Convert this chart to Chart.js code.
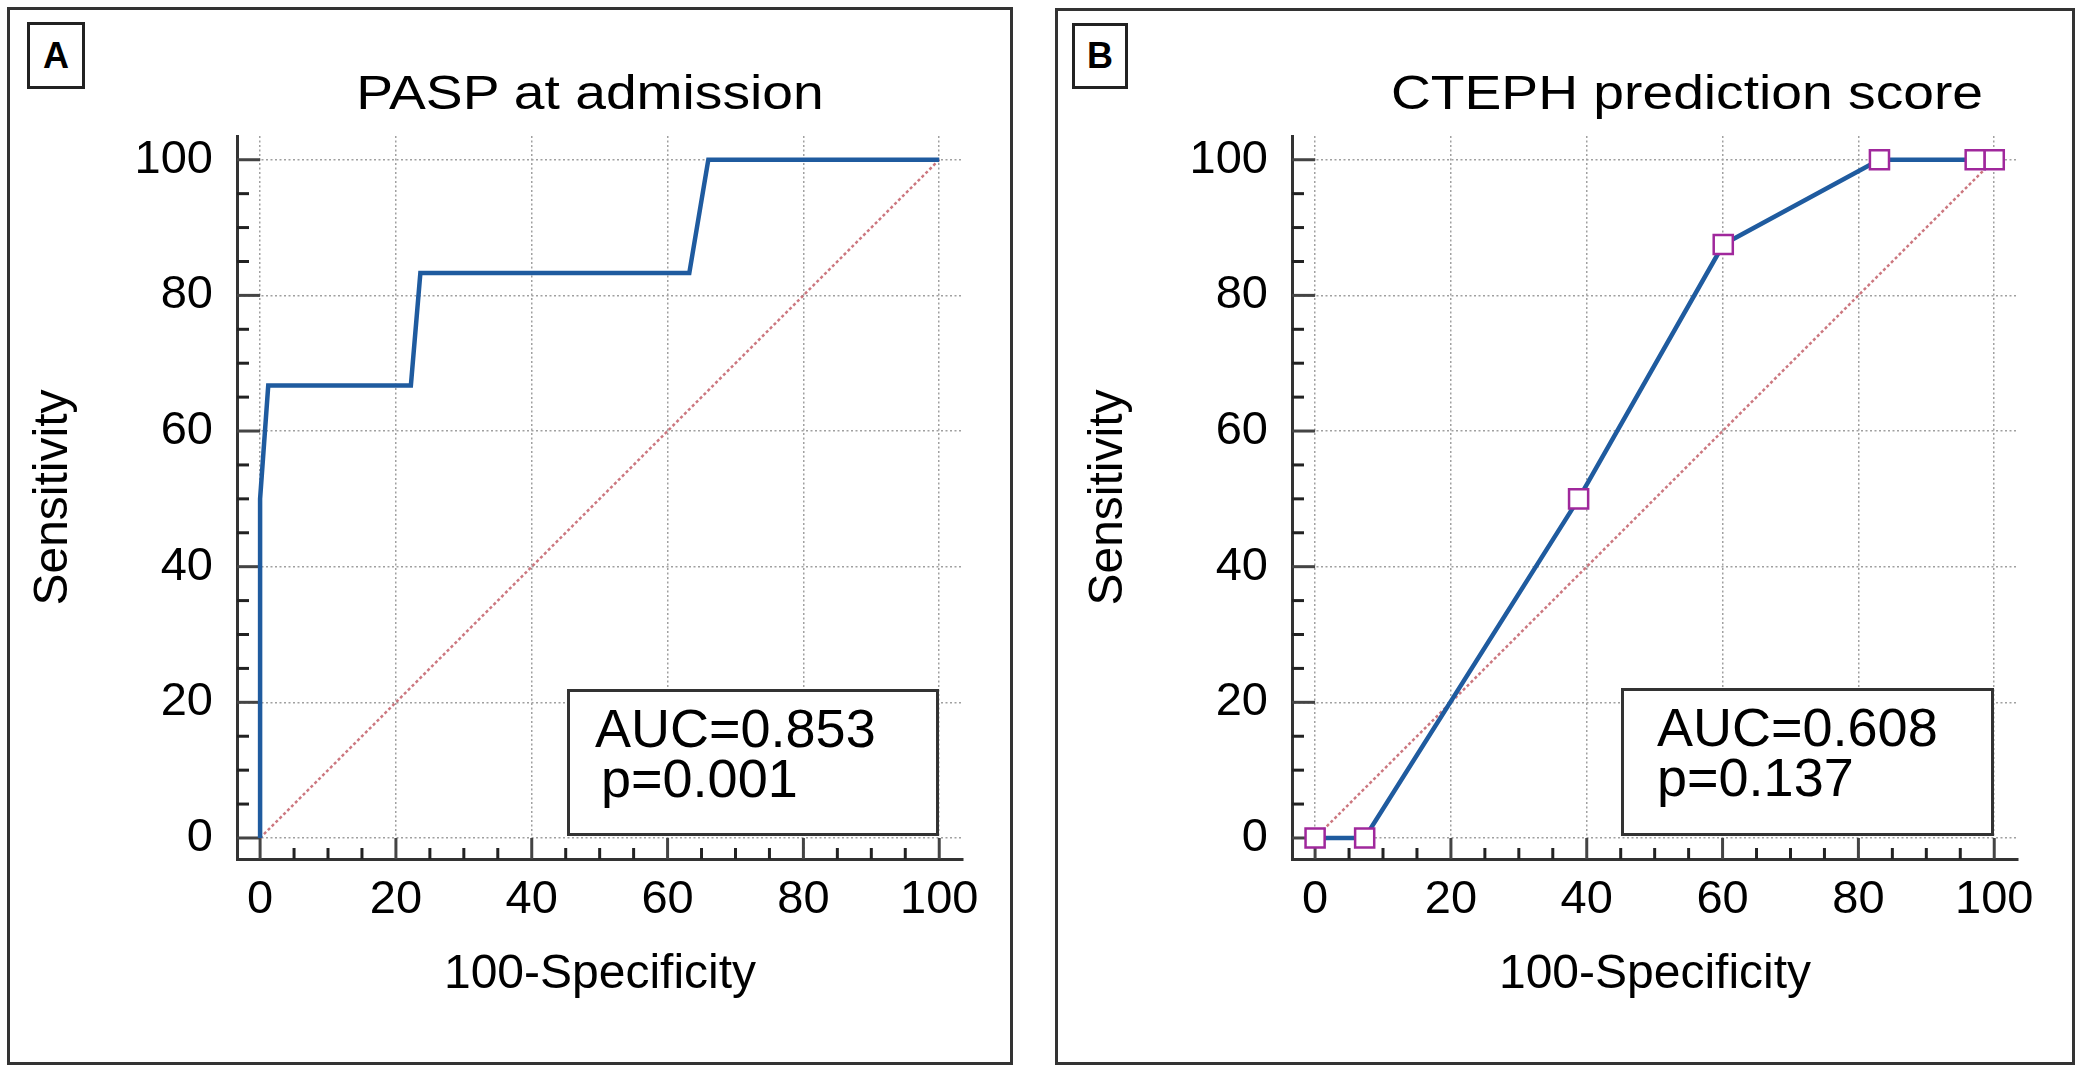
<!DOCTYPE html>
<html>
<head>
<meta charset="utf-8">
<title>ROC curves</title>
<script src="https://cdn.jsdelivr.net/npm/chart.js@4.4.1/dist/chart.umd.min.js"></script>
<style>
  html, body { margin: 0; padding: 0; background: #fff; }
  body { width: 2091px; height: 1076px; position: relative; overflow: hidden;
         font-family: "Liberation Sans", Arial, sans-serif; color: #000; }
  .panel { position: absolute; box-sizing: border-box; border: 3px solid #333; }
  .tag { position: absolute; box-sizing: border-box; border: 3px solid #222; display: flex;
         align-items: center; justify-content: center; font-weight: bold; font-size: 36px; background: #fff; }
  .title { position: absolute; font-size: 48px; line-height: 1; white-space: nowrap;
           transform: translateX(-50%) scaleX(1.15); }
  .auc { position: absolute; box-sizing: border-box; border: 3px solid #333; background: #fff;
         font-size: 54px; line-height: 50px; white-space: nowrap; }
  canvas { position: absolute; top: 0; }
</style>
</head>
<body>

<div class="panel" style="left:7px; top:7px; width:1006px; height:1058px;"></div>
<div class="panel" style="left:1055px; top:8px; width:1020px; height:1057px;"></div>

<canvas id="chartA" width="1036" height="1076" style="left:0px;"></canvas>
<canvas id="chartB" width="1036" height="1076" style="left:1055px;"></canvas>

<div class="tag" style="left:27px; top:22px; width:58px; height:67px;">A</div>
<div class="tag" style="left:1072px; top:23px; width:56px; height:66px;">B</div>

<div class="title" id="titleA" style="left:590px; top:69px;"></div>
<div class="title" id="titleB" style="left:1687px; top:69px;"></div>

<div class="auc" style="left:567px; top:689px; width:372px; height:147px; padding:11px 0 0 25px;">
  <div id="aucA"></div><div id="pA" style="padding-left:6px;"></div>
</div>
<div class="auc" style="left:1621px; top:688px; width:373px; height:148px; padding:11px 0 0 33px;">
  <div id="aucB"></div><div id="pB"></div>
</div>

<script>
// valeurs
const titleA = 'PASP at admission';
const titleB = 'CTEPH prediction score';
const xAxisTitle = '100-Specificity';
const yAxisTitle = 'Sensitivity';

const aucTextA = 'AUC=0.853';
const pTextA = 'p=0.001';
const aucTextB = 'AUC=0.608';
const pTextB = 'p=0.137';

// courbe ROC A (PASP)
const paspX = [0, 0, 1.2, 22.2, 23.6, 63.2, 66.0, 100];
const paspY = [0, 50, 66.7, 66.7, 83.3, 83.3, 100, 100];

// courbe ROC B (score CTEPH)
const ctephX = [0, 7.3, 38.8, 60.1, 83.1, 97.2, 100];
const ctephY = [0, 0, 50, 87.5, 100, 100, 100];

// diagonale de référence
const diagX = [0, 100];
const diagY = [0, 100];

const majorTicks = [0, 20, 40, 60, 80, 100];
const minorTicks = [0, 5, 10, 15, 20, 25, 30, 35, 40, 45, 50, 55, 60, 65, 70, 75, 80, 85, 90, 95, 100];

const FONT = '"Liberation Sans", Arial, sans-serif';
Chart.defaults.font.family = FONT;
Chart.defaults.color = '#000';

document.getElementById('titleA').textContent = titleA;
document.getElementById('titleB').textContent = titleB;
document.getElementById('aucA').textContent = aucTextA;
document.getElementById('pA').textContent = pTextA;
document.getElementById('aucB').textContent = aucTextB;
document.getElementById('pB').textContent = pTextB;

function toPoints(xs, ys) {
  return xs.map((x, i) => ({ x: x, y: ys[i] }));
}

// petites graduations entre l'axe et la ligne zéro
const tickMarks = {
  id: 'tickMarks',
  beforeDatasetsDraw(chart) {
    const { ctx, chartArea, scales: { x, y } } = chart;
    const x0 = x.getPixelForValue(0);
    const y0 = y.getPixelForValue(0);
    ctx.save();
    ctx.lineWidth = 3;
    minorTicks.forEach(v => {
      const major = majorTicks.includes(v);
      ctx.strokeStyle = major ? '#444' : '#222';
      const py = y.getPixelForValue(v);
      ctx.beginPath();
      ctx.moveTo(chartArea.left, py);
      ctx.lineTo(major ? x0 : chartArea.left + 12, py);
      ctx.stroke();
      const px = x.getPixelForValue(v);
      ctx.beginPath();
      ctx.moveTo(px, chartArea.bottom);
      ctx.lineTo(px, major ? y0 : chartArea.bottom - 11);
      ctx.stroke();
    });
    ctx.restore();
  }
};

function axis(title, isX) {
  return {
    type: 'linear',
    min: isX ? -3.4 : -3.1,
    max: 103.5,
    afterBuildTicks: s => { s.ticks = majorTicks.map(v => ({ value: v })); },
    afterFit: s => { if (isX) s.height = 160; else s.width = 217; },
    grid: { color: '#a0a0a0', lineWidth: 1.5, drawTicks: false },
    border: { display: true, color: '#333', width: 3, dash: [2, 2.5] },
    ticks: { font: { size: 47 }, color: '#000', padding: isX ? 13 : 24, autoSkip: false, maxRotation: 0 },
    title: {
      display: true, text: title, color: '#000', font: { size: 48 },
      padding: isX ? { top: 0, bottom: 15 } : { top: 5, bottom: 0 }
    }
  };
}

function makeChart(id, datasets) {
  return new Chart(document.getElementById(id), {
    type: 'scatter',
    data: { datasets: datasets },
    options: {
      responsive: false,
      animation: false,
      devicePixelRatio: 1,
      layout: { padding: { left: 20, top: 136, right: 73, bottom: 57 } },
      plugins: { legend: { display: false }, tooltip: { enabled: false } },
      events: [],
      scales: { x: axis(xAxisTitle, true), y: axis(yAxisTitle, false) }
    },
    plugins: [tickMarks]
  });
}

const diagStyle = {
  borderColor: 'rgba(195, 95, 105, 0.85)',
  borderWidth: 2.5,
  borderDash: [3, 2.5],
  pointRadius: 0,
  showLine: true
};

makeChart('chartA', [
  {
    data: toPoints(paspX, paspY),
    borderColor: '#1f5b9f',
    borderWidth: 4.5,
    pointRadius: 0,
    showLine: true
  },
  Object.assign({ data: toPoints(diagX, diagY) }, diagStyle)
]);

makeChart('chartB', [
  {
    data: toPoints(ctephX, ctephY),
    borderColor: '#1f5b9f',
    borderWidth: 4.5,
    showLine: true,
    pointStyle: 'rect',
    pointRadius: 13.5,
    pointBackgroundColor: '#fff',
    pointBorderColor: '#a0289c',
    pointBorderWidth: 2.5
  },
  Object.assign({ data: toPoints(diagX, diagY) }, diagStyle)
]);
</script>
</body>
</html>
